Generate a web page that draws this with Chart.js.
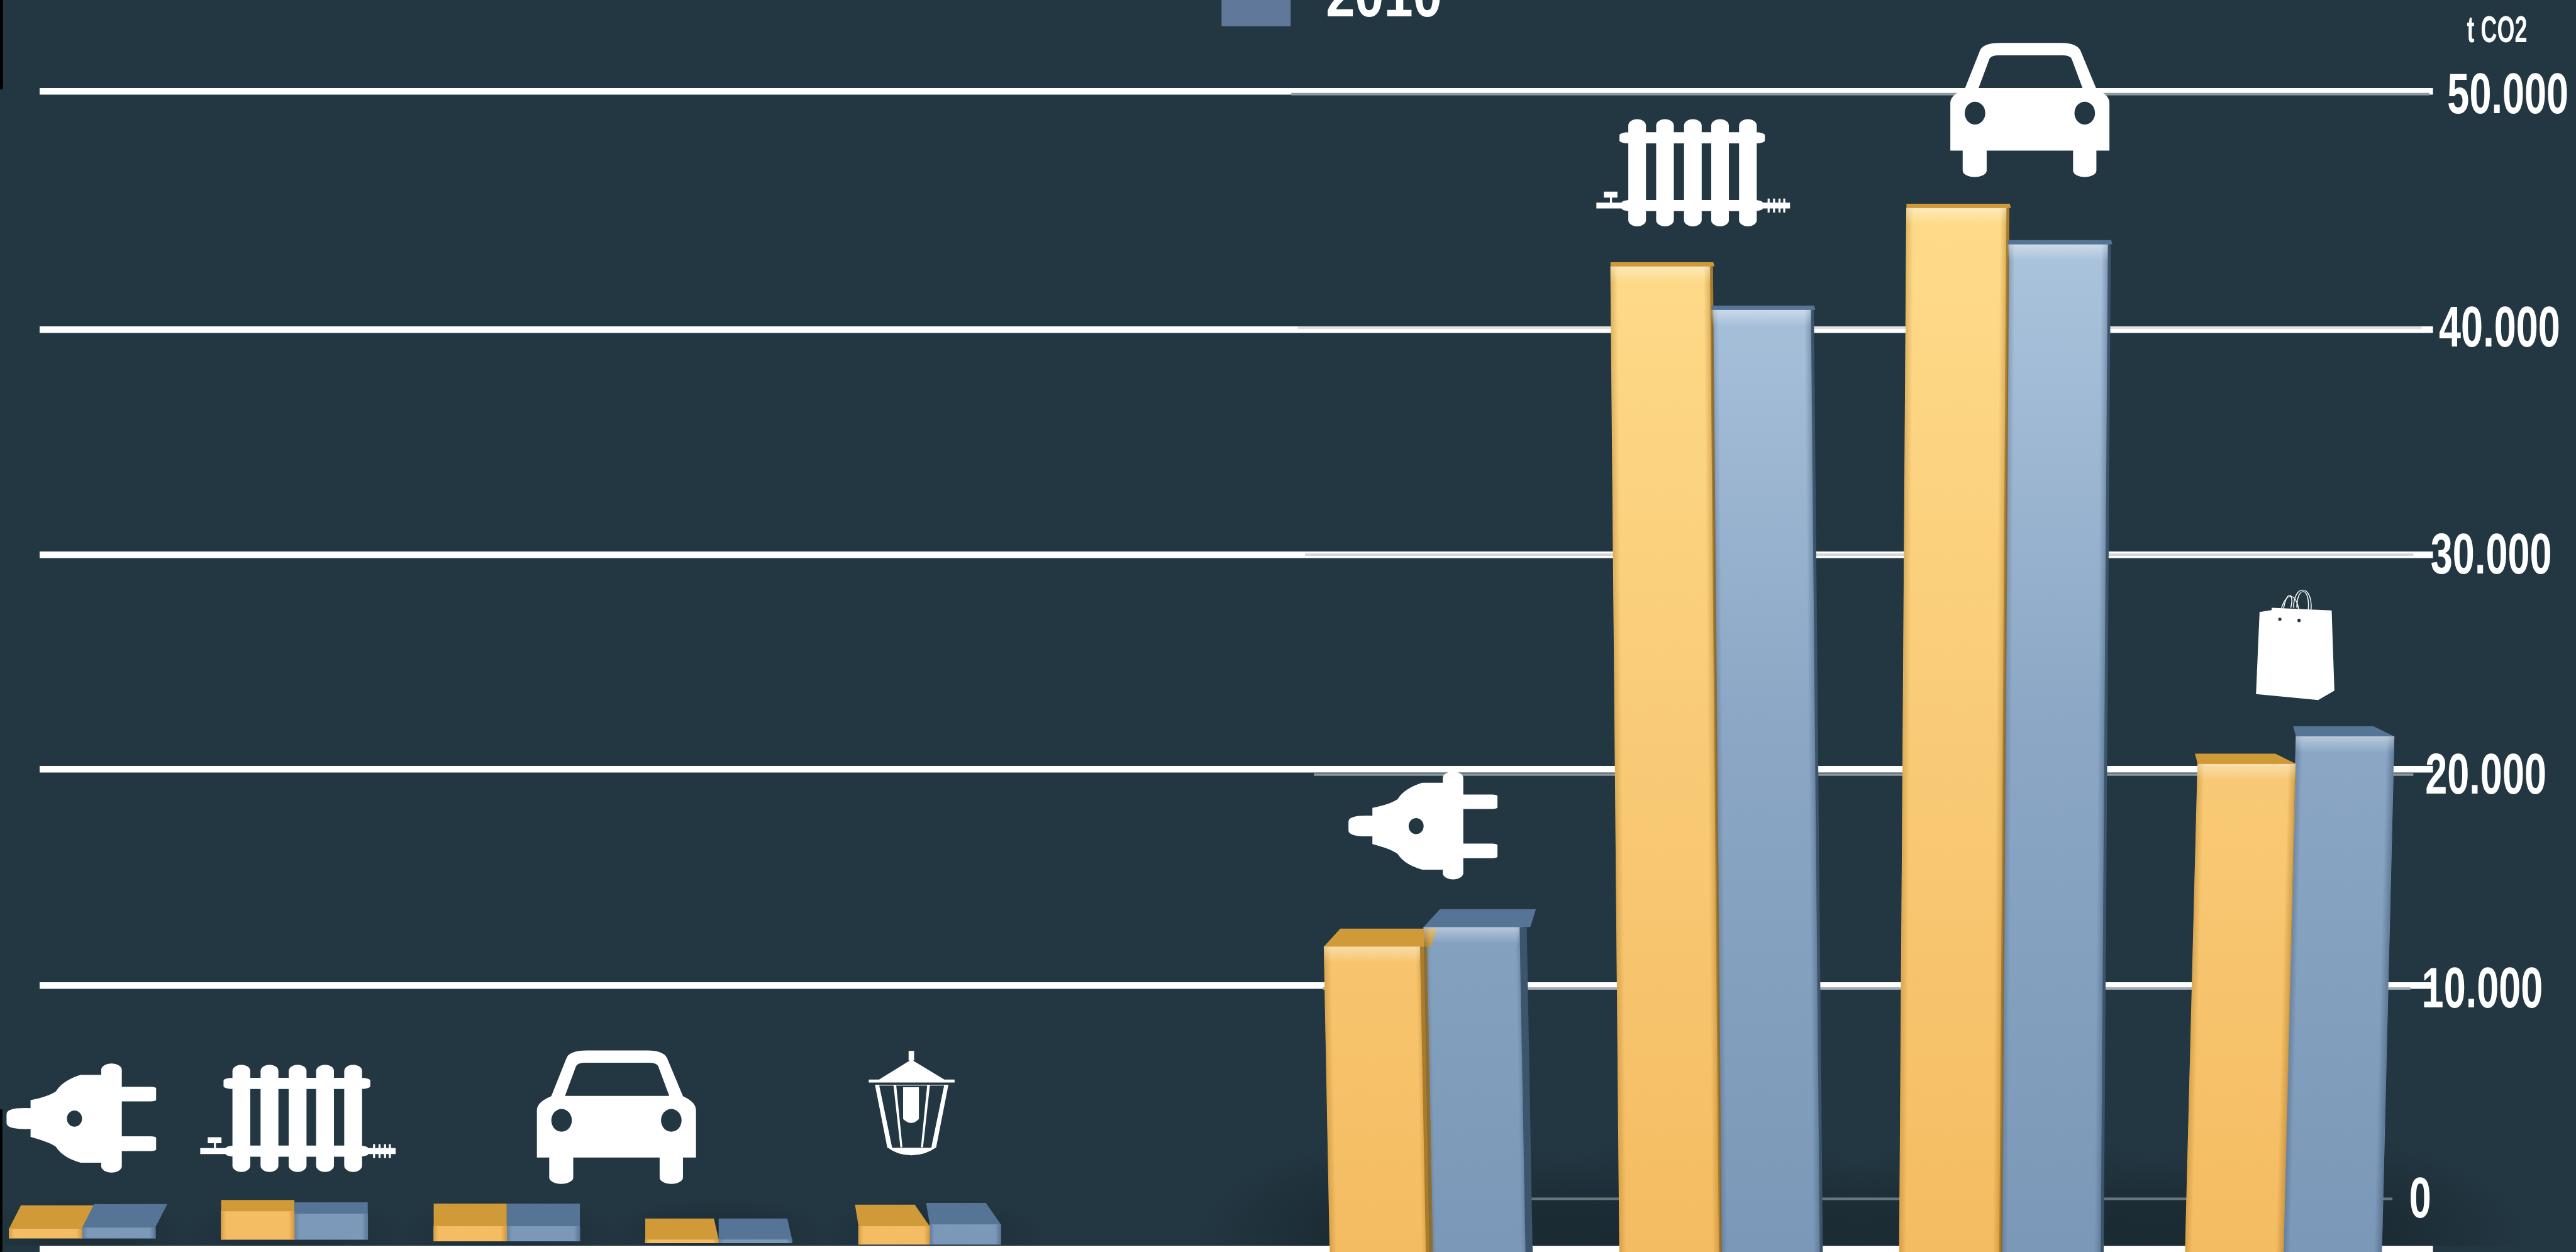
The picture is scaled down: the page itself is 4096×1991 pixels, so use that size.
<!DOCTYPE html>
<html>
<head>
<meta charset="utf-8">
<title>t CO2</title>
<script src="https://cdn.jsdelivr.net/npm/chart.js@4/dist/chart.umd.js"></script>
<style>
  html, body { margin: 0; padding: 0; background: #233742; overflow: hidden; }
  canvas { display: block; }
</style>
</head>
<body>
<canvas id="co2Chart" width="4096" height="1991"></canvas>
<script>
// data (blank category separates the two groups)
const categories = ['Plug', 'Radiator', 'Car', 'Lantern', 'Bag', '', 'Plug', 'Radiator', 'Car', 'Bag'];
const orangeValues = [770, 1425, 860, 360, 860, null, 11800, 42650, 45100, 20250];
const blueValues = [815, 1335, 860, 360, 930, null, 12700, 40825, 43575, 21530];
const floorValues = [400, 350, 290, 220, 170, null, -200, -200, -200, -200];
const yTicks = [0, 10000, 20000, 30000, 40000, 50000];
const tickLabels = ['0', '10.000', '20.000', '30.000', '40.000', '50.000'];
const blueLabel = '2010';
const unitLabel = 't CO2';

// layout below is in reference pixels, S brings it down to the window
const S = 4096 / 4323;
const BG = '#233742';
const FONT = '"Liberation Sans", sans-serif';
const LABEL_SQUEEZE = 0.7;
const xCenters = [138, 494, 851, 1205, 1565, 1897, 2393, 2866, 3375, 3853];
const frontStops = [2096, 1654, 1291, 931, 553, 153];
const backStops = [2012, 1659, 1300, 931, 550, 158];
const labelLefts = [4043, 4064, 4070, 4079, 4093, 4107];
const thinStarts = [2230, 2220, 2205, 2190, 2178, 2167];
const thinEnds = [4015, 4045, 4050, 4050, 4064, 4077];
const thinColors = ['#66767c', '#a5aeb2', '#8c9a9f', '#d5d5d5', '#e0e0e0', '#8a9a9e'];
const topDepth = [39, 19, 38, 35, 36, 0, 30, 7, 7, 17];
const topShift = [[20, 20], [0, 0], [0, 0], [0, -8], [-6, -25], [0, 0], [28, 10], [0, -2], [0, -2], [-5, -35]];
const sideWidth = [0, 0, 0, 0, 0, 0, 12, 5, 5, 0];
const barLean = [0, 0, 0, 0, 0, 0, 10, 15, -12, -21];

// the photographed chart has uneven grid spacing, so the axes go through fixed stops
class PiecewiseScale extends Chart.LinearScale {
  static id = 'piecewise';
  getPixelForValue(value) {
    if (value === null || value === undefined) return NaN;
    const stops = this.options.stops;
    let i = Math.floor(value / 10000);
    i = Math.max(0, Math.min(stops.length - 2, i));
    const t = value / 10000 - i;
    return (stops[i] + (stops[i + 1] - stops[i]) * t) * S;
  }
  _computeLabelArea() {
    return undefined;
  }
  _computeLabelItems(area) {
    const items = super._computeLabelItems(area);
    items.forEach((item, i) => {
      item.options.translation[0] = labelLefts[i] * S / LABEL_SQUEEZE;
      item.options.translation[1] += 5;
    });
    return items;
  }
  // no condensed face is installed, so the labels are squeezed sideways
  drawLabels(area) {
    this.ctx.save();
    this.ctx.scale(LABEL_SQUEEZE, 1);
    super.drawLabels(area);
    this.ctx.restore();
  }
}

class GroupedCategoryScale extends Chart.CategoryScale {
  static id = 'groupedCategory';
  getPixelForValue(value) {
    return xCenters[value] * S;
  }
}

Chart.register(PiecewiseScale, GroupedCategoryScale);

// bars lean a little in the photographed 3D view
function applyLean(ctx, bar, i) {
  const k = barLean[i] * S / (bar.base - bar.y);
  ctx.transform(1, 0, k, 1, -k * bar.y, 0);
}

const drawBar = Chart.BarElement.prototype.draw;
Chart.BarElement.prototype.draw = function (ctx) {
  ctx.save();
  applyLean(ctx, this, this.categoryIndex);
  drawBar.call(this, ctx);
  ctx.restore();
};

function polygon(p, pts) {
  p.moveTo(pts[0][0], pts[0][1]);
  pts.slice(1).forEach(q => p.lineTo(q[0], q[1]));
  p.closePath();
}

// bar with elliptical ends, running along y
function capsule(p, x0, y0, x1, y1) {
  const rx = (x1 - x0) / 2, ry = 32;
  p.moveTo(x0, y0 + ry);
  p.ellipse(x0 + rx, y0 + ry, rx, ry, 0, Math.PI, 0);
  p.lineTo(x1, y1 - ry);
  p.ellipse(x0 + rx, y1 - ry, rx, ry, 0, 0, Math.PI);
  p.closePath();
}

function plugIcon(ctx) {
  const p = new Path2D();
  p.moveTo(165, 312);
  p.lineTo(118, 312);
  p.quadraticCurveTo(92, 340, 82, 395);
  p.quadraticCurveTo(72, 420, 45, 440);
  p.lineTo(45, 480);
  p.quadraticCurveTo(10, 475, 10, 510);
  p.lineTo(10, 555);
  p.quadraticCurveTo(10, 590, 45, 585);
  p.lineTo(45, 625);
  p.quadraticCurveTo(72, 650, 82, 675);
  p.quadraticCurveTo(92, 730, 118, 755);
  p.lineTo(165, 755);
  p.closePath();
  p.moveTo(120, 533);
  p.ellipse(109, 533, 11, 41, 0, 0, Math.PI * 2);
  ctx.fill(p, 'evenodd');
  const q = new Path2D();
  capsule(q, 148, 255, 178, 805);
  q.roundRect(170, 372, 58, 74, 8);
  q.roundRect(170, 622, 58, 75, 8);
  ctx.fill(q);
}

function radiatorIcon(ctx) {
  const p = new Path2D();
  [340, 381, 422, 462, 503].forEach(x => capsule(p, x, 260, x + 26, 800));
  p.roundRect(327, 326, 214, 56, 14);
  p.roundRect(330, 667, 208, 56, 14);
  p.rect(293, 680, 44, 30);
  p.rect(304, 625, 20, 30);
  p.rect(313, 655, 3, 26);
  p.rect(538, 680, 40, 30);
  [545, 553, 561, 568].forEach(x => p.rect(x, 660, 3, 70));
  ctx.fill(p);
}

function carIcon(ctx) {
  const p = new Path2D();
  p.moveTo(806, 420);
  p.lineTo(828, 230);
  p.quadraticCurveTo(832, 190, 858, 190);
  p.lineTo(946, 190);
  p.quadraticCurveTo(970, 190, 975, 230);
  p.lineTo(998, 420);
  p.quadraticCurveTo(1017, 450, 1017, 490);
  p.lineTo(1017, 728);
  p.lineTo(785, 728);
  p.lineTo(785, 490);
  p.quadraticCurveTo(785, 450, 806, 420);
  p.closePath();
  p.moveTo(826, 418);
  p.lineTo(842, 270);
  p.quadraticCurveTo(844, 252, 856, 252);
  p.lineTo(948, 252);
  p.quadraticCurveTo(960, 252, 962, 270);
  p.lineTo(978, 418);
  p.closePath();
  p.moveTo(836, 541);
  p.ellipse(821, 541, 15, 57, 0, 0, Math.PI * 2);
  p.moveTo(996, 541);
  p.ellipse(981, 541, 15, 57, 0, 0, Math.PI * 2);
  ctx.fill(p, 'evenodd');
  const wheels = new Path2D();
  capsule(wheels, 803, 690, 838, 860);
  capsule(wheels, 964, 690, 998, 860);
  ctx.fill(wheels);
}

function lanternIcon(ctx) {
  const p = new Path2D();
  p.rect(1328, 192, 8, 48);
  polygon(p, [[1332, 235], [1380, 336], [1285, 336]]);
  p.rect(1270, 336, 125, 15);
  p.rect(1280, 362, 105, 4);
  polygon(p, [[1279, 362], [1285, 362], [1304, 680], [1297, 680]]);
  polygon(p, [[1380, 362], [1386, 362], [1368, 680], [1361, 680]]);
  polygon(p, [[1306, 366], [1310, 366], [1319, 678], [1316, 678]]);
  polygon(p, [[1355, 366], [1359, 366], [1349, 678], [1346, 678]]);
  p.moveTo(1320, 375);
  p.lineTo(1343, 375);
  p.lineTo(1343, 535);
  p.quadraticCurveTo(1332, 575, 1320, 535);
  p.closePath();
  p.moveTo(1298, 680);
  p.lineTo(1367, 680);
  p.quadraticCurveTo(1352, 718, 1332, 718);
  p.quadraticCurveTo(1312, 718, 1298, 680);
  p.closePath();
  ctx.fill(p);
}

function bagIcon(ctx) {
  const p = new Path2D();
  polygon(p, [[416, 382], [460, 372], [460, 360], [679, 374], [689, 778], [630, 826], [403, 796]]);
  ctx.fill(p);
  ctx.strokeStyle = '#fff';
  ctx.lineWidth = 3.5;
  [[490, 415, 498, 270, 562, 260, 561, 420], [500, 400, 510, 260, 545, 280, 530, 360], [540, 360, 540, 240, 610, 240, 604, 370], [552, 360, 552, 250, 600, 250, 594, 368]].forEach(c => {
    ctx.beginPath();
    ctx.moveTo(c[0], c[1]);
    ctx.bezierCurveTo(c[2], c[3], c[4], c[5], c[6], c[7]);
    ctx.stroke();
  });
  ctx.fillStyle = BG;
  ctx.beginPath();
  ctx.ellipse(490, 418, 6, 8, 0, 0, Math.PI * 2);
  ctx.ellipse(560, 424, 6, 9, 0, 0, Math.PI * 2);
  ctx.fill();
}

// icon, its own drawing box, where it goes in the reference
const plugBox = [10, 255, 228, 805];
const radiatorBox = [293, 260, 578, 800];
const carBox = [785, 190, 1017, 860];
const lanternBox = [1270, 192, 1395, 718];
const bagBox = [403, 270, 690, 826];
const icons = [
  [plugIcon, plugBox, [11, 1785, 262, 1968]],
  [radiatorIcon, radiatorBox, [336, 1787, 664, 1967]],
  [carIcon, carBox, [901, 1763, 1168, 1987]],
  [lanternIcon, lanternBox, [1458, 1764, 1602, 1939]],
  [plugIcon, plugBox, [2263, 1295, 2513, 1476]],
  [radiatorIcon, radiatorBox, [2679, 200, 3004, 380]],
  [carIcon, carBox, [3273, 72, 3540, 297]],
  [bagIcon, bagBox, [3786, 990, 3918, 1175]]
];

const backdropPlugin = {
  id: 'backdrop',
  beforeDatasetsDraw(chart) {
    const ctx = chart.ctx;
    const x = chart.scales.x;
    const yBack = chart.scales.yBack;

    // the bar drawing needs to know its category for the lean
    chart.data.datasets.forEach((ds, d) => {
      chart.getDatasetMeta(d).data.forEach((bar, i) => { bar.categoryIndex = i; });
    });

    // floor shadow round each group, stops at the white floor line
    ctx.save();
    ctx.beginPath();
    ctx.rect(0, 0, 4096, 2091 * S);
    ctx.clip();
    categories.forEach((c, i) => {
      if (!c) return;
      const large = i > 5;
      const rx = (large ? 380 : 190) * S, ry = (large ? 170 : 60) * S;
      ctx.save();
      ctx.translate(x.getPixelForValue(i), (large ? 2075 : 2070) * S);
      ctx.scale(1, ry / rx);
      const g = ctx.createRadialGradient(0, 0, 0, 0, 0, rx);
      g.addColorStop(0, large ? 'rgba(20,32,38,0.8)' : 'rgba(20,32,38,0.45)');
      g.addColorStop(1, 'rgba(20,32,38,0)');
      ctx.fillStyle = g;
      ctx.fillRect(-rx, -rx, rx * 2, rx * 2);
      ctx.restore();
    });
    ctx.restore();

    // thin back wall lines
    yTicks.forEach((v, i) => {
      ctx.fillStyle = thinColors[i];
      const y = yBack.getPixelForValue(v);
      ctx.fillRect(thinStarts[i] * S, y - 2, (thinEnds[i] - thinStarts[i]) * S, 4);
    });
  }
};

const blockPlugin = {
  id: 'blockFaces',
  afterDatasetsDraw(chart) {
    const ctx = chart.ctx;
    const topColors = ['#d09a38', '#567496'];
    const sideColors = ['#a97c2c', '#3c546c'];
    const edgeColors = ['150,95,10', '40,65,95'];
    chart.data.datasets.forEach((ds, d) => {
      chart.getDatasetMeta(d).data.forEach((bar, i) => {
        if (!categories[i]) return;
        const x0 = bar.x - bar.width / 2, x1 = bar.x + bar.width / 2;
        const depth = topDepth[i] * S, shift = topShift[i];
        const side = sideWidth[i] * S;
        const height = bar.base - bar.y;
        ctx.save();
        applyLean(ctx, bar, i);

        // darker edges down the front face
        const edge = ctx.createLinearGradient(x0, 0, x1, 0);
        edge.addColorStop(0, 'rgba(' + edgeColors[d] + ',0.3)');
        edge.addColorStop(0.07, 'rgba(' + edgeColors[d] + ',0)');
        edge.addColorStop(0.92, 'rgba(' + edgeColors[d] + ',0)');
        edge.addColorStop(1, 'rgba(' + edgeColors[d] + ',0.4)');
        ctx.fillStyle = edge;
        ctx.fillRect(x0, bar.y, bar.width, height);

        // light bevel under the top edge of the tall bars
        if (i > 5) {
          const bevel = ctx.createLinearGradient(0, bar.y, 0, bar.y + 26);
          bevel.addColorStop(0, 'rgba(255,255,255,0.4)');
          bevel.addColorStop(1, 'rgba(255,255,255,0)');
          ctx.fillStyle = bevel;
          ctx.fillRect(x0, bar.y, bar.width, 26);
        }

        ctx.fillStyle = topColors[d];
        ctx.beginPath();
        ctx.moveTo(x0, bar.y);
        ctx.lineTo(x1 + side, bar.y);
        ctx.lineTo(x1 + shift[1] * S + side, bar.y - depth);
        ctx.lineTo(x0 + shift[0] * S, bar.y - depth);
        ctx.closePath();
        ctx.fill();
        if (side > 0) {
          ctx.fillStyle = sideColors[d];
          ctx.fillRect(x1 - side / 2, bar.y, side, height);
        }
        ctx.restore();
      });
    });
  }
};

const overlayPlugin = {
  id: 'overlay',
  afterDraw(chart) {
    const ctx = chart.ctx;

    icons.forEach(([draw, from, to]) => {
      ctx.save();
      ctx.fillStyle = '#fff';
      ctx.translate(to[0] * S, to[1] * S);
      ctx.scale((to[2] - to[0]) / (from[2] - from[0]) * S, (to[3] - to[1]) / (from[3] - from[1]) * S);
      ctx.translate(-from[0], -from[1]);
      draw(ctx);
      ctx.restore();
    });

    // legend, cut off by the top edge as in the picture
    ctx.fillStyle = '#60799a';
    ctx.fillRect(2050 * S, 0, 116 * S, 44 * S);
    ctx.fillStyle = '#fff';
    ctx.textAlign = 'left';
    ctx.textBaseline = 'alphabetic';
    ctx.save();
    ctx.translate(2225 * S, 27 * S);
    ctx.scale(0.83, 1);
    ctx.font = 'bold 100px ' + FONT;
    ctx.fillText(blueLabel, 0, 0);
    ctx.restore();

    // unit label
    ctx.save();
    ctx.translate(4140 * S, 71 * S);
    ctx.scale(0.6, 1);
    ctx.font = 'bold 60px ' + FONT;
    ctx.fillText(unitLabel, 0, 0);
    ctx.restore();

    // black slivers on the left edge
    ctx.fillStyle = '#000';
    ctx.fillRect(0, 0, 5 * S, 150 * S);
    ctx.fillRect(0, 1862 * S, 4 * S, 239 * S);
  }
};

const ctx = document.getElementById('co2Chart').getContext('2d');

function barGradient(stops) {
  const g = ctx.createLinearGradient(0, 330 * S, 0, 2100 * S);
  stops.forEach((c, i) => g.addColorStop(i / (stops.length - 1), c));
  return g;
}

new Chart(ctx, {
  type: 'bar',
  data: {
    labels: categories,
    datasets: [
      {
        label: 'Orange',
        data: orangeValues.map((v, i) => v === null ? null : [floorValues[i], v]),
        backgroundColor: barGradient(['#ffdc8a', '#f9cb77', '#f4bc62']),
        clip: false
      },
      {
        label: blueLabel,
        data: blueValues.map((v, i) => v === null ? null : [floorValues[i], v]),
        backgroundColor: barGradient(['#aec6df', '#8ba7c5', '#7c98b8']),
        clip: false
      }
    ]
  },
  plugins: [backdropPlugin, blockPlugin, overlayPlugin],
  options: {
    responsive: false,
    animation: false,
    events: [],
    barThickness: 'flex',
    categoryPercentage: 0.69,
    barPercentage: 1,
    layout: { padding: { left: 66 * S, right: 0, top: 0, bottom: 0 } },
    plugins: { legend: { display: false }, tooltip: { enabled: false } },
    scales: {
      x: { type: 'groupedCategory', display: false },
      y: {
        type: 'piecewise',
        stops: frontStops,
        position: 'left',
        min: -200,
        max: 50000,
        afterBuildTicks: s => { s.ticks = yTicks.map(v => ({ value: v })); },
        afterFit: s => { s.width = 0; },
        ticks: { display: false },
        border: { display: false },
        grid: { color: '#fff', lineWidth: 10.5, drawTicks: false }
      },
      yBack: {
        type: 'piecewise',
        stops: backStops,
        position: 'right',
        min: 0,
        max: 50000,
        afterBuildTicks: s => { s.ticks = yTicks.map(v => ({ value: v })); },
        afterFit: s => { s.width = (4323 - 4083) * S; },
        ticks: {
          z: 1,
          color: '#fff',
          padding: 0,
          autoSkip: false,
          maxRotation: 0,
          font: { family: FONT, size: 90, weight: 'bold' },
          callback: v => tickLabels[yTicks.indexOf(v)]
        },
        border: { display: false },
        grid: { display: false }
      }
    }
  }
});
</script>
</body>
</html>
